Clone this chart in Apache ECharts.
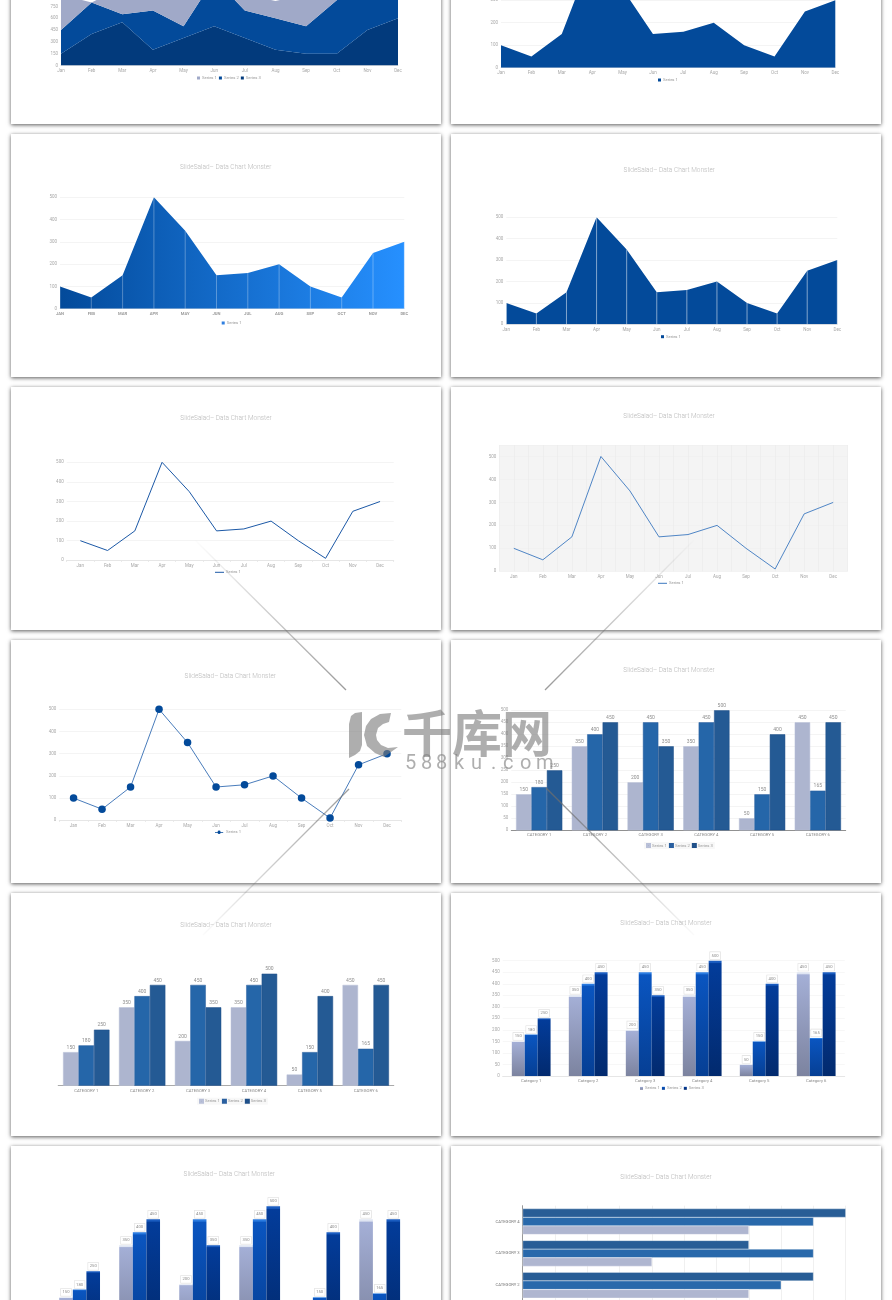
<!DOCTYPE html>
<html><head><meta charset="utf-8">
<style>html,body{margin:0;padding:0;background:#fff}#c{width:892px;height:1300px}</style>
<script src="https://cdn.jsdelivr.net/npm/echarts@6/dist/echarts.min.js"></script>
</head><body><div id="c"></div>
<script>
const months=['Jan','Feb','Mar','Apr','May','Jun','Jul','Aug','Sep','Oct','Nov','Dec'];
const monthsUpper=['JAN','FEB','MAR','APR','MAY','JUN','JUL','AUG','SEP','OCT','NOV','DEC'];
const categoriesUpper=['CATEGORY 1','CATEGORY 2','CATEGORY 3','CATEGORY 4','CATEGORY 5','CATEGORY 6'];
const categoriesLower=['Category 1','Category 2','Category 3','Category 4','Category 5','Category 6'];
const categoriesHoriz=['CATEGORY 1','CATEGORY 2','CATEGORY 3','CATEGORY 4'];
const stackSeries1=[450,0,350,300,350,200,200,220,400,300,300,300];
const stackSeries2=[300,400,100,500,150,600,350,400,350,680,500,400];
const stackSeries3=[150,400,550,200,350,500,350,200,150,150,450,600];
const areaValues=[100,50,150,500,350,150,160,200,100,50,250,300];
const lineValues=[100,50,150,500,350,150,160,200,100,10,250,300];
const barSeries1=[150,350,200,350,50,450];
const barSeries2=[180,400,450,450,150,165];
const barSeries3=[250,450,350,500,400,450];
const hBarSeries1=[150,350,200,350];
const hBarSeries2=[180,400,450,450];
const hBarSeries3=[250,450,350,500];
const titleText='SlideSalad\u2013 Data Chart Monster';
const FONT='Roboto',GRID='#efefef',LBL='#a8a8a8';

const opt={animation:false,backgroundColor:'#fff',title:[],legend:[],grid:[],xAxis:[],yAxis:[],series:[]};
const gfx=[];
[[11,-119],[451,-119],[11,134],[451,134],[11,387],[451,387],[11,640],[451,640],[11,893],[451,893],[11,1146],[451,1146]].forEach(p=>{
  gfx.push({type:'rect',z:-10,shape:{x:p[0],y:p[1],width:430,height:243},style:{fill:'#fff',shadowBlur:4,shadowColor:'rgba(0,0,0,0.65)',shadowOffsetY:0.5}});
});
function title(cx,y){opt.title.push({text:titleText,left:cx,top:y-4,textAlign:'center',padding:0,textStyle:{fontFamily:FONT,fontWeight:300,fontSize:6.5,color:'#b9b9b9'}});}
function legend(left,y,names,extra){opt.legend.push(Object.assign({left:left,top:y-3,padding:0,itemGap:2,itemWidth:3,itemHeight:3,icon:'rect',data:names,selectedMode:false,
  formatter:n=>n.split('|')[1],textStyle:{fontFamily:FONT,fontSize:4.2,color:'#999',padding:[0,0,0,-3]}},extra||{}));}
function grid(l,t,r,b,extra){opt.grid.push(Object.assign({left:l,top:t,width:r-l,height:b-t,containLabel:false,outerBoundsMode:'none'},extra||{}));return opt.grid.length-1;}
function xCat(g,data,boundary,extra){const a=Object.assign({type:'category',gridIndex:g,data:data,boundaryGap:boundary,
  axisLine:{show:true,lineStyle:{color:'#e6e6e6',width:1}},axisTick:{show:false},
  axisLabel:{fontFamily:FONT,fontSize:4.5,color:LBL,margin:3,interval:0,hideOverlap:false},splitLine:{show:false}},extra||{});opt.xAxis.push(a);return opt.xAxis.length-1;}
function yVal(g,max,interval,extra){const a=Object.assign({type:'value',gridIndex:g,min:0,max:max,interval:interval,
  axisLine:{show:false},axisTick:{show:false},axisLabel:{fontFamily:FONT,fontSize:4.5,color:LBL,margin:3},
  splitLine:{show:true,lineStyle:{color:GRID,width:0.7}}},extra||{});opt.yAxis.push(a);return opt.yAxis.length-1;}
function area(x,y,name,data,color,extra){opt.series.push(Object.assign({type:'line',name:name,xAxisIndex:x,yAxisIndex:y,data:data,symbol:'none',color:color,
  lineStyle:{width:0},itemStyle:{color:color},areaStyle:{color:color,opacity:1}},extra||{}));}
function dropLines(x,y,name,data,color){opt.series.push({type:'bar',name:name,xAxisIndex:x,yAxisIndex:y,data:data,barWidth:0.8,itemStyle:{color:color},z:5});}

/* Panel 1: stacked area, cut by the page top */
{const g=grid(61,-29,398,65.5),x=xCat(g,months,false),y=yVal(g,1200,150);
 area(x,y,'p1|Series 3',stackSeries3,'#023a7c',{stack:'s'});
 area(x,y,'p1|Series 2',stackSeries2,'#034a9a',{stack:'s'});
 area(x,y,'p1|Series 1',stackSeries1,'#a0a9c8',{stack:'s'});
 legend(197,79,['p1|Series 1','p1|Series 2','p1|Series 3']);}
/* Panel 2 */
{const g=grid(501,-44.8,835.3,67.7),x=xCat(g,months,false),y=yVal(g,500,100);
 area(x,y,'p2|Series 1',areaValues,'#034a9a');
 legend(658,81,['p2|Series 1']);}
/* Panel 3: gradient area */
{title(225.7,168);
 const g=grid(60,197.3,404.3,308.7),x=xCat(g,monthsUpper,false,{axisLabel:{fontFamily:FONT,fontSize:4.2,fontWeight:700,color:'#9a9a9a',margin:3,interval:0}}),y=yVal(g,500,100);
 const grad={type:'linear',x:0,y:0,x2:1,y2:0,colorStops:[{offset:0,color:'#034a9a'},{offset:1,color:'#2690ff'}]};
 area(x,y,'p3|Series 1',areaValues,grad,{itemStyle:{color:'#2f7fe0'}});
 dropLines(x,y,'p3|drop',areaValues,'rgba(255,255,255,0.3)');
 legend(221.7,324,['p3|Series 1']);}
/* Panel 4 */
{title(669.3,170.7);
 const g=grid(506.3,217.3,837.3,324.3),x=xCat(g,months,false),y=yVal(g,500,100);
 area(x,y,'p4|Series 1',areaValues,'#034a9a');
 dropLines(x,y,'p4|drop',areaValues,'rgba(255,255,255,0.5)');
 legend(661,337.7,['p4|Series 1']);}
/* Panel 5 */
const lineLegend={itemWidth:9,itemHeight:1};
const markerLegend={icon:'path://M0 1.6H3.2A1.8 1.8 0 0 1 6.8 1.6H10V2.4H6.8A1.8 1.8 0 0 1 3.2 2.4H0Z',itemWidth:10,itemHeight:3.6};
{title(226,418.7);
 const g=grid(66.7,462.3,393.7,560.3),x=xCat(g,months,true,{axisTick:{show:true,length:1.5,lineStyle:{color:'#e6e6e6'}}}),y=yVal(g,500,100);
 opt.series.push({type:'line',name:'p5|Series 1',xAxisIndex:x,yAxisIndex:y,data:lineValues,symbol:'none',color:'#1b58a6',lineStyle:{width:1,color:'#1b58a6'}});
 legend(215,573.3,['p5|Series 1'],lineLegend);}
/* Panel 6: shaded plot area */
{title(669,417.3);
 const g=grid(499.3,445,847.7,571.3,{show:true,backgroundColor:'#f4f4f4',borderWidth:0}),x=xCat(g,months,true,{axisLine:{show:false}}),
   y=yVal(g,550,100,{axisLabel:{fontFamily:FONT,fontSize:4.5,color:LBL,margin:3,formatter:v=>v>500?'':v}});
 xCat(g,months.flatMap(m=>[m,m]),true,{position:'top',axisLine:{show:false},axisLabel:{show:false},splitLine:{show:true,interval:0,lineStyle:{color:'#ebebeb',width:0.7}}});
 opt.series.push({type:'line',name:'p6|Series 1',xAxisIndex:x,yAxisIndex:y,data:lineValues,symbol:'none',color:'#3c78bf',lineStyle:{width:0.9,color:'#3c78bf'}});
 legend(658,584.3,['p6|Series 1'],lineLegend);}
/* Panel 7: line with markers */
{title(230.3,676.7);
 const g=grid(59.3,709.3,401.3,820.3),x=xCat(g,months,true,{axisTick:{show:true,length:1.5,lineStyle:{color:'#e6e6e6'}}}),y=yVal(g,500,100);
 opt.series.push({type:'line',name:'p7|Series 1',xAxisIndex:x,yAxisIndex:y,data:lineValues,symbol:'circle',symbolSize:7.5,color:'#034a9a',itemStyle:{color:'#034a9a'},lineStyle:{width:0.8,color:'#1a5aaa'}});
 legend(215,833.3,['p7|Series 1'],markerLegend);}
/* Flat bars */
function flatBars(id,x,y,catGap){
 [[barSeries1,'#adb5cf','#b9c0d8'],[barSeries2,'#2566a9','#2a5f9f'],[barSeries3,'#245a94','#1f4f88']].forEach((s,i)=>{
  opt.series.push({type:'bar',name:id+'|Series '+(i+1),xAxisIndex:x,yAxisIndex:y,data:s[0],barGap:0,barCategoryGap:catGap,
   itemStyle:{color:s[1],borderColor:s[2],borderWidth:0.5},
   label:{show:true,position:'top',distance:2,fontFamily:FONT,fontSize:5,color:'#8f8f8f'}});
 });
}
{title(669,671);
 const g=grid(511.3,710.3,845.7,830.3),x=xCat(g,categoriesUpper,true,{axisLine:{show:true,lineStyle:{color:'#777',width:0.8}},axisLabel:{fontFamily:FONT,fontSize:4.2,color:'#888',margin:3,interval:0}}),y=yVal(g,500,50);
 flatBars('p8',x,y,'17%');
 legend(644,845,['p8|Series 1','p8|Series 2','p8|Series 3'],{backgroundColor:'#f8f8f8',padding:[1,2]});}
{title(226,926);
 const g=grid(58.3,973.7,393.7,1085.7),x=xCat(g,categoriesUpper,true,{axisLine:{show:true,lineStyle:{color:'#aaa',width:1.2}},axisLabel:{fontFamily:FONT,fontSize:4.2,color:'#888',margin:3,interval:0}}),
   y=yVal(g,500,50,{show:false,splitLine:{show:false}});
 flatBars('p9',x,y,'17%');
 legend(197,1100.7,['p9|Series 1','p9|Series 2','p9|Series 3'],{backgroundColor:'#f8f8f8',padding:[1,2]});}
/* Gradient bars */
function glossBars(id,x,y){
 const sets=[[barSeries1,'#dfe5f2','#a4afd6','#7c839f'],[barSeries2,'#2a7be0','#0a55c0','#063f94'],[barSeries3,'#1a5cc0','#033c9a','#022a6e']];
 sets.forEach((s,i)=>{
  opt.series.push({type:'bar',name:id+'|Series '+(i+1),xAxisIndex:x,yAxisIndex:y,data:s[0],barGap:0,barCategoryGap:'32%',
   itemStyle:{color:{type:'linear',x:0,y:0,x2:0,y2:1,colorStops:[{offset:0,color:s[1]},{offset:0.015,color:s[1]},{offset:0.025,color:s[2]},{offset:1,color:s[3]}]}},
   label:{show:true,position:'top',distance:1.5,fontFamily:FONT,fontSize:4.2,color:'#8a8a8a',backgroundColor:'#fff',borderColor:'#dedede',borderWidth:0.6,padding:[1.5,1.5]}});
 });
}
{title(666,924);
 const g=grid(502.7,960.7,844.7,1076),x=xCat(g,categoriesLower,true,{axisLabel:{fontFamily:FONT,fontSize:4.2,color:'#888',margin:3,interval:0}}),y=yVal(g,500,50,{splitLine:{show:true,lineStyle:{color:'#f4f4f4',width:0.7}}});
 glossBars('p10',x,y);
 legend(640,1089.3,['p10|Series 1','p10|Series 2','p10|Series 3']);}
{title(229.3,1174.7);
 const g=grid(49.6,1206.3,409.7,1336.3),x=xCat(g,categoriesLower,true,{axisLabel:{show:false}}),y=yVal(g,500,50,{show:false,splitLine:{show:false}});
 glossBars('p11',x,y);}
/* Panel 12: horizontal bars */
{title(666,1178);
 const g=grid(522.7,1205.7,845.7,1332.9);
 opt.xAxis.push({type:'value',gridIndex:g,min:0,max:500,interval:50,axisLine:{show:false},axisTick:{show:false},axisLabel:{show:false},splitLine:{show:true,lineStyle:{color:'#e9e9e9',width:0.7}}});
 const x=opt.xAxis.length-1;
 opt.yAxis.push({type:'category',gridIndex:g,data:categoriesHoriz,axisLine:{show:true,lineStyle:{color:'#999',width:1}},axisTick:{show:false},axisLabel:{fontFamily:FONT,fontSize:4.2,color:'#777',margin:3,interval:0}});
 const y=opt.yAxis.length-1;
 [[hBarSeries3,'#245a94',3],[hBarSeries2,'#2566a9',2],[hBarSeries1,'#adb5cf',1]].forEach(s=>{
  opt.series.push({type:'bar',name:'p12|Series '+s[2],xAxisIndex:x,yAxisIndex:y,data:s[0],barGap:0,barCategoryGap:'19%',itemStyle:{color:s[1],borderColor:'#fff',borderWidth:0.3,opacity:0.98}});
 });}

/* Overlay marks of the reference image */
const wm='rgba(125,125,125,0.62)';
function fadeLine(x1,y1,x2,y2,fromAlpha,toAlpha){
 gfx.push({type:'line',z:100,shape:{x1,y1,x2,y2},style:{lineWidth:1.3,stroke:{type:'linear',x:x1<x2?0:1,y:y1<y2?0:1,x2:x1<x2?1:0,y2:y1<y2?1:0,
  colorStops:[{offset:0,color:'rgba(110,110,110,'+fromAlpha+')'},{offset:1,color:'rgba(110,110,110,'+toAlpha+')'}]}}});
}
fadeLine(195,540,346,690,0,0.7);
fadeLine(694,540,545,690,0,0.7);
fadeLine(349,789,203,935,0.7,0.02);
fadeLine(546,788,694,935,0.8,0.02);
gfx.push({type:'polygon',z:100,shape:{points:[[349,724],[351,716],[355,713],[362,712],[362,745],[360,751],[355,755],[349,758]]},style:{fill:wm}});
gfx.push({type:'polygon',z:100,shape:{points:[[391,713],[380,714],[371,719],[366,726],[364,735],[367,746],[375,753],[384,757],[398,747],[388,748],[381,745],[377,740],[376,735],[378,728],[383,724],[389,722]]},style:{fill:wm}});
gfx.push({type:'text',z:100,x:402,y:708,style:{text:'\u5343\u5e93\u7f51',font:'700 50px "Noto Sans CJK SC"',fill:wm,textVerticalAlign:'top'}});
[['5',405],['8',421],['8',436],['k',454],['u',471],['.',491],['c',503],['o',520],['m',536]].forEach(c=>{
 gfx.push({type:'text',z:100,x:c[1],y:754,style:{text:c[0],font:'20px "Roboto"',fill:wm,textVerticalAlign:'top'}});
});
opt.graphic={elements:gfx};

const chart=echarts.init(document.getElementById('c'),null,{renderer:'canvas',width:892,height:1300,devicePixelRatio:1});
chart.setOption(opt);
</script></body></html>
